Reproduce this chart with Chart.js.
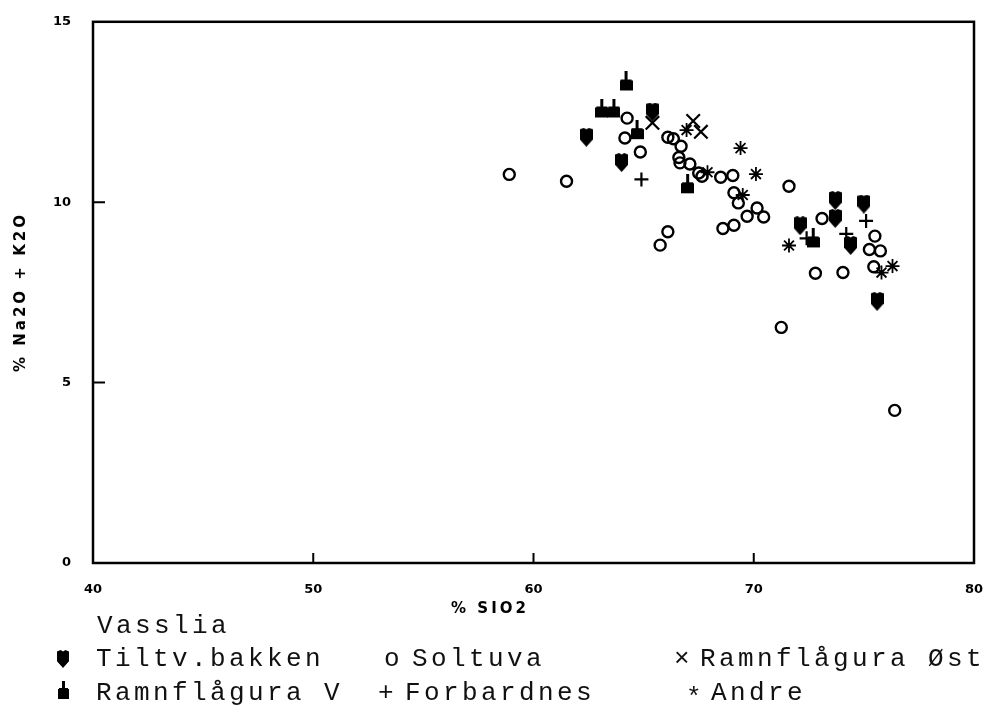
<!DOCTYPE html>
<html>
<head>
<meta charset="utf-8">
<script src="https://cdn.jsdelivr.net/npm/chart.js@4.4.1/dist/chart.umd.min.js"></script>
<style>
  body { margin: 0; background: #fff; }
  #wrap { position: relative; width: 995px; height: 707px; }
  #wrap canvas#plot { position: absolute; left: 0; top: 0; }
  .axis-title { position: absolute; font-family: "DejaVu Sans", sans-serif; font-weight: bold; font-size: 15px; letter-spacing: 3px; color: #000; white-space: nowrap; }
  .legend { position: absolute; font-family: "Liberation Mono", monospace; font-size: 26px; letter-spacing: 3.4px; color: #111; white-space: nowrap; line-height: 1; transform: translateY(-50%); }
  .mark { position: absolute; }
</style>
</head>
<body>
<div id="wrap">
  <canvas id="plot" width="995" height="707"></canvas>
  <div class="axis-title" style="left:490px; top:608px; transform:translate(-50%,-50%);">% SIO2</div>
  <div class="axis-title" style="left:20px; top:292px; transform:translate(-50%,-50%) rotate(-90deg);">% Na2O + K2O</div>

  <div class="legend" style="left:97px; top:626px;">Vasslia</div>
  <div class="legend" style="left:96px; top:659px;">Tiltv.bakken</div>
  <div class="legend" style="left:384px; top:659px;">o</div>
  <div class="legend" style="left:412px; top:659px;">Soltuva</div>
  <div class="legend" style="left:674px; top:659px;">×</div>
  <div class="legend" style="left:700px; top:659px;">Ramnflågura Øst</div>
  <div class="legend" style="left:96px; top:693px;">Ramnflågura V</div>
  <div class="legend" style="left:378px; top:693px;">+</div>
  <div class="legend" style="left:405px; top:693px;">Forbardnes</div>
  <div class="legend" style="left:686px; top:698px;">*</div>
  <div class="legend" style="left:711px; top:693px;">Andre</div>
</div>

<script>
// Tiltv.bakken (filled shield)
const tiltvX = [62.4, 64.0, 65.4, 72.1, 73.7, 73.7, 75.0, 74.4, 75.6];
const tiltvY = [11.8, 11.1, 12.5, 9.35, 10.05, 9.55, 9.95, 8.8, 7.25];

// Ramnflågura V (filled block with stem)
const ramnVX = [64.2, 63.1, 63.65, 64.7, 67.0, 72.7];
const ramnVY = [13.25, 12.5, 12.5, 11.9, 10.4, 8.9];

// Soltuva (open circle)
const soltuvaX = [58.9, 61.5, 64.25, 64.15, 64.85, 66.1, 66.35, 66.7, 66.6, 66.65, 67.1, 67.5, 67.65,
  68.5, 69.05, 71.6, 69.1, 69.3, 70.15, 70.45, 69.7, 68.6, 69.1, 66.1, 65.75, 73.1, 75.5, 75.25,
  75.75, 75.45, 72.8, 74.05, 71.25, 76.4];
const soltuvaY = [10.77, 10.58, 12.33, 11.78, 11.39, 11.8, 11.76, 11.55, 11.24, 11.09, 11.06, 10.81, 10.72,
  10.69, 10.74, 10.44, 10.26, 9.98, 9.84, 9.59, 9.61, 9.27, 9.36, 9.18, 8.81, 9.55, 9.06, 8.69,
  8.65, 8.21, 8.03, 8.05, 6.53, 4.23];

// Forbardnes (plus)
const forbX = [64.9, 72.4, 74.2, 75.1];
const forbY = [10.63, 9.0, 9.12, 9.48];

// Ramnflågura Øst (x)
const ostX = [65.4, 67.25, 67.6];
const ostY = [12.2, 12.25, 11.95];

// Andre (asterisk)
const andreX = [66.95, 67.9, 69.4, 70.1, 69.5, 71.6, 76.3, 75.8];
const andreY = [12.0, 10.83, 11.5, 10.78, 10.2, 8.8, 8.23, 8.05];

const xTicks = [40, 50, 60, 70, 80];
const yTicks = [0, 5, 10, 15];

function pts(xs, ys) {
  return xs.map((x, i) => ({ x: x, y: ys[i] }));
}

function makeShield(w, h) {
  const c = document.createElement('canvas');
  c.width = w; c.height = h;
  const g = c.getContext('2d');
  g.fillStyle = '#000';
  g.beginPath();
  g.moveTo(0, 1.5);
  g.lineTo(w * 0.3, 0);
  g.lineTo(w * 0.5, 1.5);
  g.lineTo(w * 0.7, 0);
  g.lineTo(w, 1.5);
  g.lineTo(w, h * 0.62);
  g.lineTo(w / 2, h);
  g.lineTo(0, h * 0.62);
  g.closePath();
  g.fill();
  return c;
}

function makeHouse(w, body, stem) {
  // image centred on the block, stem sticking up
  const c = document.createElement('canvas');
  c.width = w; c.height = 2 * stem + body;
  const g = c.getContext('2d');
  g.fillStyle = '#000';
  g.fillRect(0, stem + 1, w, body - 1);
  g.fillRect(1, stem, w - 2, 1);
  g.fillRect(w / 2 - 1.5, 0, 3, stem + 1);
  return c;
}

const shieldImg = makeShield(13, 19);
const houseImg = makeHouse(13, 11, 8);

// legend markers
const legShield = makeShield(12, 18);
legShield.className = 'mark';
legShield.style.left = '57px'; legShield.style.top = '650px';
document.getElementById('wrap').appendChild(legShield);
const legHouse = makeHouse(11, 11, 7);
legHouse.className = 'mark';
legHouse.style.left = '58px'; legHouse.style.top = '681px';
document.getElementById('wrap').appendChild(legHouse);

const frameAndTicks = {
  id: 'frameAndTicks',
  beforeDatasetsDraw(chart) {
    const { ctx, chartArea: a, scales } = chart;
    ctx.save();
    ctx.strokeStyle = '#000';
    ctx.lineWidth = 2.5;
    ctx.strokeRect(a.left, a.top, a.right - a.left, a.bottom - a.top);
    ctx.lineWidth = 2;
    ctx.beginPath();
    xTicks.slice(1, -1).forEach(v => {
      const px = scales.x.getPixelForValue(v);
      ctx.moveTo(px, a.bottom);
      ctx.lineTo(px, a.bottom - 10);
    });
    yTicks.slice(1, -1).forEach(v => {
      const py = scales.y.getPixelForValue(v);
      ctx.moveTo(a.left, py);
      ctx.lineTo(a.left + 12, py);
    });
    ctx.stroke();
    ctx.restore();
  }
};

const tickFont = { family: 'DejaVu Sans', weight: 'bold', size: 13 };

new Chart(document.getElementById('plot'), {
  type: 'scatter',
  data: {
    datasets: [
      { label: 'Tiltv.bakken', data: pts(tiltvX, tiltvY), pointStyle: shieldImg },
      { label: 'Ramnflågura V', data: pts(ramnVX, ramnVY), pointStyle: houseImg },
      { label: 'Soltuva', data: pts(soltuvaX, soltuvaY), pointStyle: 'circle', pointRadius: 5.5,
        borderWidth: 2.4, borderColor: '#000', backgroundColor: 'rgba(0,0,0,0)' },
      { label: 'Forbardnes', data: pts(forbX, forbY), pointStyle: 'cross', pointRadius: 7,
        borderWidth: 2.2, borderColor: '#000' },
      { label: 'Ramnflågura Øst', data: pts(ostX, ostY), pointStyle: 'crossRot', pointRadius: 9.5,
        borderWidth: 2.2, borderColor: '#000' },
      { label: 'Andre', data: pts(andreX, andreY), pointStyle: 'star', pointRadius: 7,
        borderWidth: 1.8, borderColor: '#000' }
    ]
  },
  options: {
    responsive: false,
    animation: false,
    layout: { padding: { left: 0, right: 21, top: 20, bottom: 0 } },
    plugins: { legend: { display: false }, tooltip: { enabled: false } },
    scales: {
      x: {
        type: 'linear', min: 40, max: 80,
        afterBuildTicks: s => { s.ticks = xTicks.map(v => ({ value: v })); },
        afterFit: s => { s.height = 144; },
        grid: { display: false }, border: { display: false },
        ticks: { color: '#000', font: tickFont, padding: 11, maxRotation: 0 }
      },
      y: {
        type: 'linear', min: 0, max: 15,
        afterBuildTicks: s => { s.ticks = yTicks.map(v => ({ value: v })); },
        afterFit: s => { s.width = 93; },
        grid: { display: false }, border: { display: false },
        ticks: { color: '#000', font: tickFont, padding: 14 }
      }
    }
  },
  plugins: [frameAndTicks]
});
</script>
</body>
</html>
